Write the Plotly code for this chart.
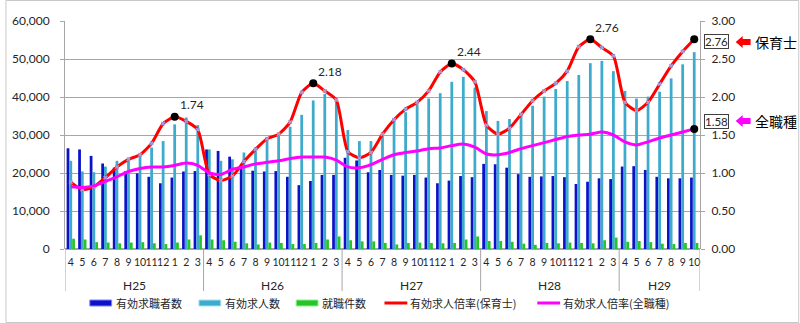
import plotly.graph_objects as go

# ---------------- data ----------------
fiscal_years = ["H25", "H26", "H27", "H28", "H29"]
months_per_year = [[4, 5, 6, 7, 8, 9, 10, 11, 12, 1, 2, 3]] * 4 + [[4, 5, 6, 7, 8, 9, 10]]
month_labels = [str(m) for ms in months_per_year for m in ms]

seekers = [26500, 26200, 24500, 22500, 21400, 20500, 19900, 19000, 17300, 18800, 20400, 20500,
           26200, 25800, 24300, 21800, 20600, 20400, 20500, 19000, 16800, 17900, 19500, 19500,
           24000, 23300, 20200, 20800, 19500, 19300, 19500, 18800, 17300, 18000, 19200, 18900,
           22400, 22300, 21400, 19700, 19000, 19100, 19200, 18900, 17100, 17700, 18600, 18400,
           21700, 21800, 20800, 19000, 18600, 18600, 18800]
offers = [23200, 20400, 20200, 21700, 23200, 24000, 24700, 26700, 28400, 32800, 34600, 32600,
          26200, 23200, 23600, 25400, 26700, 29300, 30200, 32200, 35300, 39100, 40800, 39100,
          31300, 28400, 28400, 30700, 33700, 36000, 38100, 39600, 41000, 44000, 45300, 42500,
          36300, 33700, 34200, 35700, 37700, 40100, 42100, 44200, 45800, 48900, 49500, 46800,
          41600, 39600, 40100, 41400, 44900, 48600, 51800]
placements = [2700, 2500, 1800, 1700, 1500, 1700, 1800, 1500, 1300, 1700, 2500, 3600,
              2500, 2300, 1900, 1500, 1200, 1700, 1600, 1300, 1300, 1600, 2500, 3300,
              2300, 2000, 2000, 1600, 1200, 1600, 1700, 1600, 1500, 1600, 2500, 3300,
              2100, 2100, 1900, 1400, 1100, 1600, 1500, 1700, 1600, 1500, 2300, 3000,
              1900, 2100, 1800, 1400, 1300, 1600, 1600]
ratio_nursery = [0.88, 0.78, 0.82, 0.94, 1.08, 1.18, 1.24, 1.39, 1.65, 1.74, 1.68, 1.57,
                 0.98, 0.90, 0.96, 1.15, 1.31, 1.45, 1.51, 1.67, 2.06, 2.18, 2.08, 1.96,
                 1.28, 1.20, 1.27, 1.51, 1.70, 1.84, 1.93, 2.08, 2.33, 2.44, 2.36, 2.20,
                 1.63, 1.51, 1.59, 1.77, 1.95, 2.08, 2.18, 2.34, 2.66, 2.76, 2.65, 2.54,
                 1.93, 1.82, 1.93, 2.17, 2.41, 2.60, 2.76]
ratio_all = [0.82, 0.81, 0.83, 0.89, 0.95, 1.02, 1.06, 1.08, 1.08, 1.10, 1.13, 1.10,
             1.00, 0.98, 1.05, 1.08, 1.12, 1.14, 1.16, 1.19, 1.21, 1.21, 1.21, 1.17,
             1.08, 1.07, 1.11, 1.18, 1.24, 1.27, 1.29, 1.32, 1.33, 1.36, 1.38, 1.34,
             1.25, 1.24, 1.27, 1.32, 1.36, 1.40, 1.44, 1.48, 1.50, 1.51, 1.54, 1.50,
             1.41, 1.37, 1.41, 1.46, 1.50, 1.54, 1.58]
peak_idx_nursery = [9, 21, 33, 45]
end_idx = 54

series_names = ["有効求職者数", "有効求人数", "就職件数", "有効求人倍率(保育士)", "有効求人倍率(全職種)"]
series_colors = ["#0c12c8", "#3fabcc", "#27c427", "#ff0000", "#ff00ff"]
side_labels = ["保育士", "全職種"]

# ---------------- geometry helpers ----------------
W, H = 800, 323
L, R, T, B = 60, 700, 21, 249
def px(xp):
    return (xp - L) / (R - L)
def py(yp):
    return (B - yp) / (B - T)

x = list(range(len(month_labels)))
JP = "Noto Sans CJK JP"
NUM = "Lato, Noto Sans CJK JP"
TXT = "#262626"

fig = go.Figure()
for vals, name, col in zip([seekers, offers, placements], series_names[:3], series_colors[:3]):
    fig.add_trace(go.Bar(x=x, y=vals, name=name, marker=dict(color=col, line=dict(width=0)),
                         showlegend=False))

fig.add_trace(go.Scatter(x=x, y=ratio_nursery, yaxis="y2", mode="lines+markers",
                         name=series_names[3], showlegend=False,
                         line=dict(color=series_colors[3], width=3, shape="spline", smoothing=0.6),
                         marker=dict(symbol="x", size=4, color="#a99be0")))
fig.add_trace(go.Scatter(x=x, y=ratio_all, yaxis="y2", mode="lines",
                         name=series_names[4], showlegend=False,
                         line=dict(color=series_colors[4], width=3, shape="spline", smoothing=0.6)))
dot_x = peak_idx_nursery + [end_idx, end_idx]
dot_y = [ratio_nursery[i] for i in peak_idx_nursery] + [ratio_nursery[end_idx], ratio_all[end_idx]]
fig.add_trace(go.Scatter(x=dot_x, y=dot_y, yaxis="y2", mode="markers", showlegend=False,
                         marker=dict(color="black", size=8)))

annotations = []
for i in peak_idx_nursery:
    annotations.append(dict(x=i, y=ratio_nursery[i], xref="x", yref="y2", text=f"{ratio_nursery[i]:.2f}",
                            showarrow=False, xanchor="left", yanchor="middle", xshift=3, yshift=12,
                            font=dict(family=NUM, size=12, color=TXT)))

# fiscal-year labels
start = 0
shapes = []
for fy, ms in zip(fiscal_years, months_per_year):
    annotations.append(dict(x=start + (len(ms) - 1) / 2, y=py(285), xref="x", yref="paper", text=fy,
                            showarrow=False, xanchor="center", yanchor="middle",
                            font=dict(family=NUM, size=12, color=TXT)))
    shapes.append(dict(type="line", xref="x", yref="paper", x0=start - 0.5, x1=start - 0.5,
                       y0=py(291), y1=0, line=dict(color="#a6a6a6", width=1)))
    start += len(ms)
shapes.append(dict(type="line", xref="x", yref="paper", x0=start - 0.5, x1=start - 0.5,
                   y0=py(291), y1=0, line=dict(color="#a6a6a6", width=1)))

# right-side value boxes, arrows, labels
for val, col, lab, yc in [(ratio_nursery[end_idx], series_colors[3], side_labels[0], 42),
                          (ratio_all[end_idx], series_colors[4], side_labels[1], 121)]:
    annotations.append(dict(x=px(717), y=py(yc), xref="paper", yref="paper", text=f"{val:.2f}",
                            showarrow=False, xanchor="center", yanchor="middle",
                            font=dict(family=NUM, size=11.5, color=TXT),
                            bordercolor="#404040", borderwidth=1, borderpad=0, bgcolor="white"))
    shapes.append(dict(type="path", xref="paper", yref="paper", fillcolor=col, line=dict(width=0),
                       path=(f"M {px(736)},{py(yc)} L {px(743)},{py(yc-6)} L {px(743)},{py(yc-3)} "
                             f"L {px(751)},{py(yc-3)} L {px(751)},{py(yc+3)} L {px(743)},{py(yc+3)} "
                             f"L {px(743)},{py(yc+6)} Z")))
    annotations.append(dict(x=px(753), y=py(yc), xref="paper", yref="paper", text=lab,
                            xanchor="left", yanchor="middle",
                            showarrow=False, font=dict(family=JP, size=14, color="black")))

# custom legend
leg_y = 303
leg_sw = [85, 195, 293, 382, 536]
edge_cols = ["#8080ff", "#9fe3f5", "#8ef08e"]
for k, (name, col) in enumerate(zip(series_names, series_colors)):
    x0 = leg_sw[k]
    if k < 3:
        shapes.append(dict(type="rect", xref="paper", yref="paper", x0=px(x0), x1=px(x0 + 22),
                           y0=py(leg_y + 3), y1=py(leg_y - 3), fillcolor=col,
                           line=dict(color=edge_cols[k], width=1)))
    else:
        shapes.append(dict(type="line", xref="paper", yref="paper", x0=px(x0), x1=px(x0 + 23),
                           y0=py(leg_y), y1=py(leg_y), line=dict(color=col, width=3)))
    annotations.append(dict(x=px(x0 + 24), y=py(leg_y), xref="paper", yref="paper", text=name,
                            xanchor="left", yanchor="middle", showarrow=False,
                            font=dict(family=JP, size=11, color=TXT)))

# outer border
shapes.append(dict(type="rect", xref="paper", yref="paper", x0=px(0.5), x1=px(799.5),
                   y0=py(322.5), y1=py(0.5), line=dict(color="#c8c8c8", width=1), layer="below"))

fig.update_layout(
    width=W, height=H,
    margin=dict(l=L, r=W - R, t=T, b=H - B),
    paper_bgcolor="white", plot_bgcolor="white",
    barmode="group", bargap=0.28, bargroupgap=0,
    showlegend=False,
    xaxis=dict(range=[-0.5, len(x) - 0.5], tickmode="array", tickvals=x, ticktext=month_labels,
               tickangle=0, ticks="", showgrid=False, zeroline=False, showline=False,
               tickfont=dict(family=NUM, size=10.5, color=TXT), ticklabelstandoff=5),
    yaxis=dict(range=[0, 60000], dtick=10000, tickformat=",", showgrid=True, gridcolor="#a6a6a6",
               gridwidth=1, zeroline=True, zerolinecolor="#a6a6a6", showline=True, linecolor="#a6a6a6",
               ticks="outside", ticklen=4, tickcolor="#a6a6a6",
               tickfont=dict(family=NUM, size=12, color=TXT), ticklabelstandoff=8),
    yaxis2=dict(range=[0, 3], dtick=0.5, tickformat=".2f", overlaying="y", side="right",
                showgrid=False, zeroline=False, showline=True, linecolor="#a6a6a6",
                ticks="outside", ticklen=4, tickcolor="#a6a6a6",
                tickfont=dict(family=NUM, size=12, color=TXT), ticklabelstandoff=4),
    annotations=annotations, shapes=shapes,
)

fig.write_html("out.html")
